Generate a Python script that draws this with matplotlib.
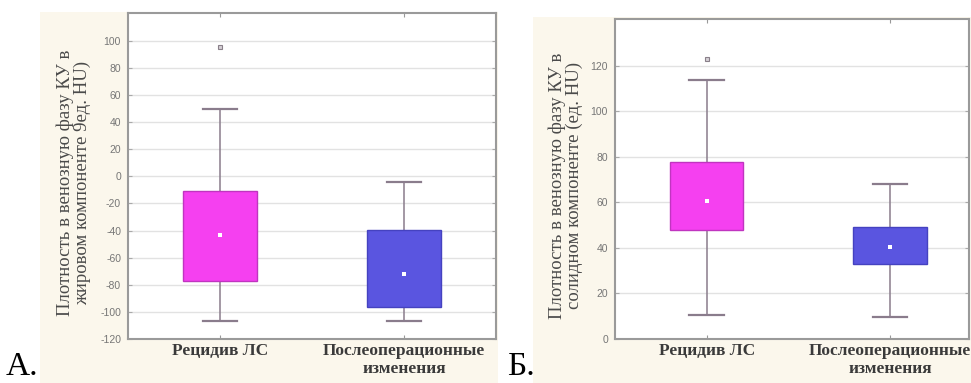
import matplotlib
matplotlib.use("Agg")
import matplotlib.pyplot as plt
from matplotlib.patches import Rectangle

# box statistics for the two groups (HU)
groups = ["Рецидив ЛС", "Послеоперационные\nизменения"]
box_colors = ["#f540f0", "#5a55e0"]
edge_colors = ["#c035c0", "#4542c0"]

# А: fatty component
fat_q1 = [-77.5, -96.5]
fat_med = [-43.5, -72.0]
fat_q3 = [-10.5, -39.5]
fat_lo = [-106.5, -107.0]
fat_hi = [49.5, -4.0]
fat_out = [[95.5], []]
fat_ticks = [100, 80, 60, 40, 20, 0, -20, -40, -60, -80, -100, -120]

# Б: solid component
sol_q1 = [48.0, 33.0]
sol_med = [60.5, 40.5]
sol_q3 = [77.5, 49.0]
sol_lo = [10.5, 9.5]
sol_hi = [113.5, 68.0]
sol_out = [[123.0], []]
sol_ticks = [0, 20, 40, 60, 80, 100, 120]

W, H = 971, 383
fig = plt.figure(figsize=(W / 100, H / 100), dpi=100)
fig.patch.set_facecolor("white")

def px(x0, y0, x1, y1):
    # pixel box (top-left origin) -> figure fraction rect
    return [x0 / W, 1 - y1 / H, (x1 - x0) / W, (y1 - y0) / H]

# cream backing of the two pasted panels
for r in (px(40, 12, 498, 383), px(533, 17, 975, 383)):
    fig.patches.append(Rectangle((r[0], r[1]), r[2], r[3], transform=fig.transFigure,
                                 facecolor="#fbf7ec", edgecolor="none", zorder=-10))


def panel(rect, xmax, ylim, ticks, q1, med, q3, lo, hi, out, ylabel, label_x):
    ax = fig.add_axes(rect)
    ax.set_facecolor("white")
    stats = []
    for i in range(len(groups)):
        stats.append(dict(q1=q1[i], med=med[i], q3=q3[i], whislo=lo[i], whishi=hi[i],
                          fliers=out[i]))
    bp = ax.bxp(stats, positions=[1, 2], widths=0.4, capwidths=0.19, patch_artist=True,
                showfliers=True,
                whiskerprops=dict(color="#8a7c8c", lw=1.1),
                capprops=dict(color="#8a7c8c", lw=1.6),
                medianprops=dict(lw=0),
                flierprops=dict(marker="s", markersize=3.5, markerfacecolor="#d6d0d6",
                                markeredgecolor="#8a808a", markeredgewidth=0.8))
    for patch, fc, ec in zip(bp["boxes"], box_colors, edge_colors):
        patch.set_facecolor(fc)
        patch.set_edgecolor(ec)
        patch.set_linewidth(1.0)
        patch.set_zorder(3)
    ax.scatter([1, 2], med, marker="s", s=6, color="white", zorder=4, linewidths=0)

    ax.set_xlim(0.5, xmax)
    ax.set_ylim(*ylim)
    ax.set_yticks(ticks)
    ax.set_yticklabels([str(t) for t in ticks], fontsize=7.5, color="#767676",
                       family="Liberation Sans")
    ax.set_xticks([1, 2])
    ax.set_xticklabels(groups, fontsize=12.5, fontweight="bold", color="#3a3a3a",
                       family="Liberation Serif", linespacing=1.15)
    ax.tick_params(axis="x", direction="in", length=3, top=True, color="#999999", pad=3)
    ax.tick_params(axis="y", direction="in", length=3, right=True, color="#aaaaaa", pad=5)
    ax.grid(axis="y", color="#e2e2e2", lw=1.0)
    ax.set_axisbelow(True)
    for s in ax.spines.values():
        s.set_color("#9a9a9a")
        s.set_linewidth(1.5)
    ax.set_ylabel(ylabel, fontsize=13.5, color="#4a4a4a", family="Liberation Serif",
                  linespacing=1.0)
    ax.yaxis.set_label_coords(label_x, 0.48)
    return ax


ax1 = panel(px(128, 13, 496, 339), 2.5, (-120, 120.5), fat_ticks,
            fat_q1, fat_med, fat_q3, fat_lo, fat_hi, fat_out,
            "Плотность в венозную фазу КУ в\nжировом компоненте 9ед. HU)", -0.10)
ax2 = panel(px(615, 19, 969, 339), 0.5 + 354 / 183.3, (0, 140.5), sol_ticks,
            sol_q1, sol_med, sol_q3, sol_lo, sol_hi, sol_out,
            "Плотность в венозную фазу КУ в\nсолидном компоненте (ед. HU)", -0.09)

fig.text(6 / W, 1 / H, "А.", fontsize=24, family="Liberation Serif", color="black",
         va="bottom")
fig.text(507 / W, 1 / H, "Б.", fontsize=24, family="Liberation Serif", color="black",
         va="bottom")

fig.savefig("out.png", dpi=100)
